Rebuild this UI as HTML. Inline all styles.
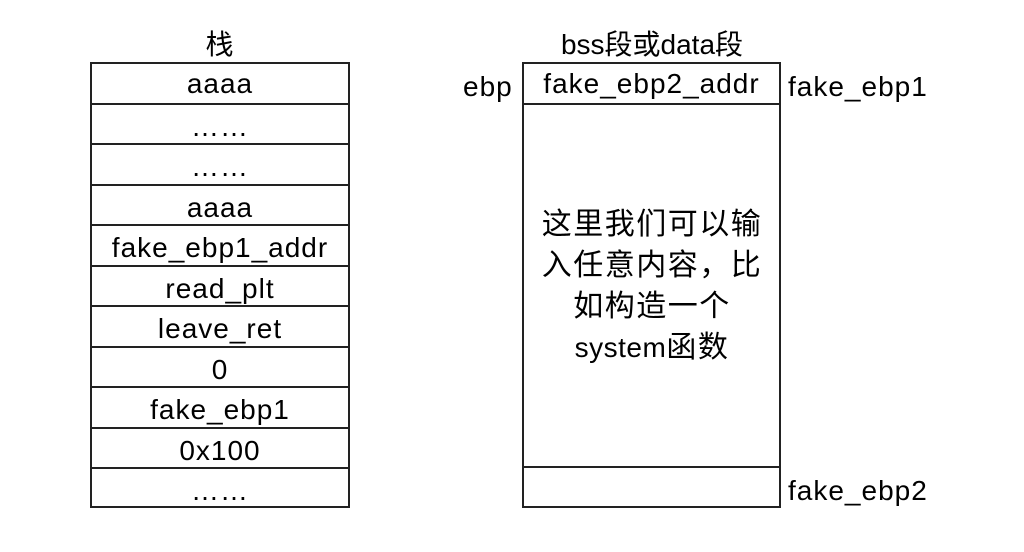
<!DOCTYPE html>
<html><head><meta charset="utf-8"><style>
body{margin:0;width:1024px;height:552px;background:#fff;position:relative;overflow:hidden;font-family:"Liberation Sans","Noto Sans CJK SC",sans-serif;color:#000}
.t{position:absolute;font-size:28px;line-height:30px;white-space:nowrap;letter-spacing:1px}
.c{text-align:center}
.box{position:absolute;border:2px solid #222;box-sizing:border-box}
.row{position:absolute;left:0;right:0;border-top:2px solid #222;box-sizing:border-box;text-align:center;font-size:28px;line-height:44px;letter-spacing:1px;height:40px}
</style></head><body>
<div class="t c" style="left:90px;width:260px;top:30px;">栈</div>
<div class="t c" style="left:523px;width:258px;top:30px;letter-spacing:0">bss段或data段</div>

<div class="box" style="left:90px;top:62px;width:260px;height:446px;">
<div class="row" style="top:-2px;border-top:none">aaaa</div>
<div class="row" style="top:38.5px">……</div>
<div class="row" style="top:79px">……</div>
<div class="row" style="top:119.5px">aaaa</div>
<div class="row" style="top:160px">fake_ebp1_addr</div>
<div class="row" style="top:200.5px">read_plt</div>
<div class="row" style="top:241px">leave_ret</div>
<div class="row" style="top:281.5px">0</div>
<div class="row" style="top:322px">fake_ebp1</div>
<div class="row" style="top:362.5px">0x100</div>
<div class="row" style="top:403px">……</div>
</div>

<div class="box" style="left:522px;top:62px;width:259px;height:446px;">
<div class="row" style="top:-2px;border-top:none">fake_ebp2_addr</div>
<div class="row" style="top:38.5px;height:0"></div>
<div class="row" style="top:402px;height:0"></div>
</div>
<div class="t" style="left:463px;top:72px;">ebp</div>
<div class="t" style="left:788px;top:72px;">fake_ebp1</div>
<div class="t" style="left:788px;top:476px;">fake_ebp2</div>
<div class="t c" style="left:513px;width:278px;top:204px;line-height:41px;font-size:30px;letter-spacing:1.5px">这里我们可以输<br>入任意内容，比<br>如构造一个<br><span style="font-size:28px;letter-spacing:0.5px">system</span>函数</div>
</body></html>
